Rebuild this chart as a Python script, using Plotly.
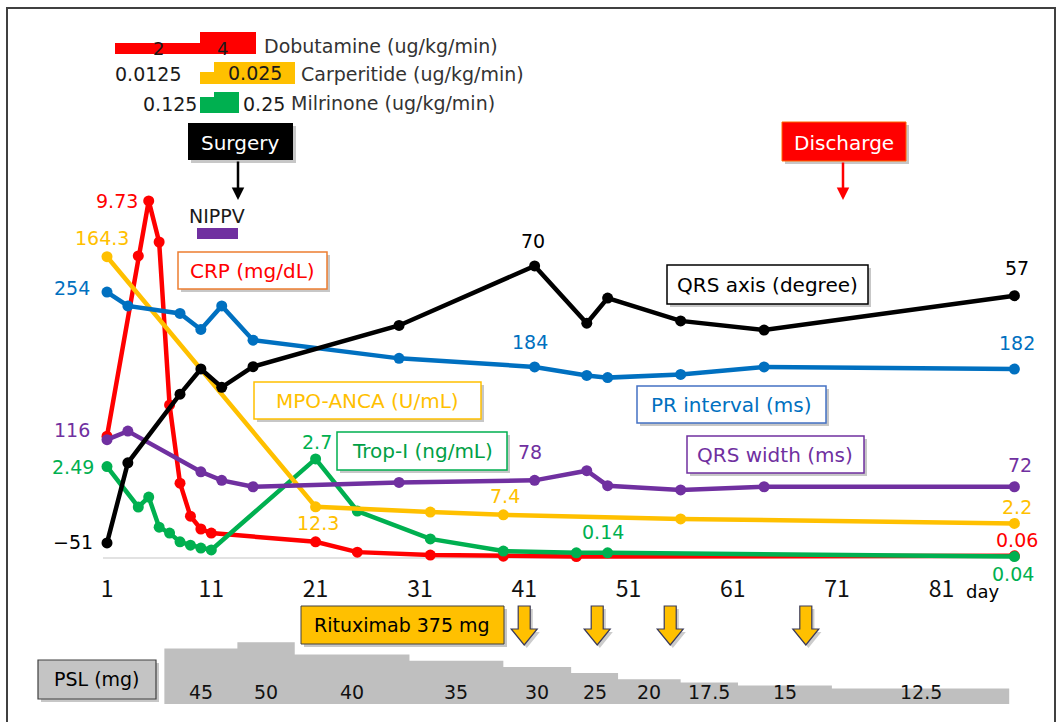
import plotly.graph_objects as go

W, H = 1058, 722
FONT = "DejaVu Sans"
TICK_FONT = "Noto Sans CJK JP"

# ---------------- data ----------------
days_crp = [1, 4, 5, 6, 7, 8, 9, 10, 11, 21, 25, 32, 39, 46, 88]
crp = [3.32, 8.23, 9.73, 8.61, 4.17, 2.04, 1.14, 0.79, 0.68, 0.44, 0.16, 0.08, 0.05, 0.04, 0.06]

days_trop = [1, 4, 5, 6, 7, 8, 9, 10, 11, 21, 25, 32, 39, 46, 49, 88]
trop = [2.49, 1.39, 1.66, 0.84, 0.68, 0.44, 0.35, 0.27, 0.22, 2.7, 1.28, 0.52, 0.19, 0.14, 0.14, 0.04]

days_mpo = [1, 21, 32, 39, 56, 88]
mpo = [164.3, 12.3, 9.1, 7.4, 4.9, 2.2]

days_ecg = [1, 3, 8, 10, 12, 15, 29, 42, 47, 49, 56, 64, 88]
pr_interval = [254, 241, 234, 219, 241, 209, 192, 184, 176, 174, 177, 184, 182]
qrs_axis = [-51, -16, 14, 25, 17, 26, 44, 70, 45, 56, 46, 42, 57]

days_qrsw = [1, 3, 10, 12, 15, 29, 42, 47, 49, 56, 64, 88]
qrs_width = [116, 124, 86, 78, 72, 76, 78, 87, 73, 69, 72, 72]

psl_start_day = [6.5, 13.5, 19, 30, 39, 45.5, 50, 56, 61.5, 70.5]
psl_end_day = 87.5
psl_dose = [45, 50, 40, 35, 30, 25, 20, 17.5, 15, 12.5]

rituximab_days = [41, 48, 55, 68]

x_ticks = [1, 11, 21, 31, 41, 51, 61, 71, 81]

# ---------------- scales ----------------
PX_PER_DAY = 10.43
DAY1_PX = 107
x_range = [1 - DAY1_PX / PX_PER_DAY, 1 + (W - DAY1_PX) / PX_PER_DAY]


def yrange(zero_px, ppu):
    return [(zero_px - H) / ppu, zero_px / ppu]


def fx(p):
    return p / W


def fy(p):
    return 1 - p / H


RED, ORANGE, BLUE, PURPLE, GREEN, BLACK = "#FF0000", "#FFC000", "#0070C0", "#7030A0", "#00B050", "#000000"

fig = go.Figure()


def series(x, y, color, yaxis):
    fig.add_trace(go.Scatter(
        x=x, y=y, mode="lines+markers", yaxis=yaxis,
        line=dict(color=color, width=4.5), marker=dict(color=color, size=11),
        showlegend=False, hoverinfo="skip"))


# PSL area
fig.add_trace(go.Scatter(
    x=psl_start_day + [psl_end_day], y=psl_dose + [psl_dose[-1]], yaxis="y5",
    mode="lines", line=dict(width=0, shape="hv", color="#BFBFBF"),
    fill="tozeroy", fillcolor="#BFBFBF", showlegend=False, hoverinfo="skip"))

series(days_ecg, pr_interval, BLUE, "y3")
series(days_qrsw, qrs_width, PURPLE, "y3")
series(days_mpo, mpo, ORANGE, "y2")
series(days_ecg, qrs_axis, BLACK, "y4")
series(days_crp, crp, RED, "y")
series(days_trop, trop, GREEN, "y")

shapes = []
annotations = []


def rect(x0, y0, x1, y1, fill, line="rgba(0,0,0,0)", lw=1, shadow=True):
    if shadow:
        shapes.append(dict(type="rect", xref="paper", yref="paper",
                           x0=fx(x0 + 3), x1=fx(x1 + 3), y0=fy(y0 + 3), y1=fy(y1 + 3),
                           fillcolor="rgba(0,0,0,0.22)", line=dict(width=0)))
    shapes.append(dict(type="rect", xref="paper", yref="paper",
                       x0=fx(x0), x1=fx(x1), y0=fy(y0), y1=fy(y1),
                       fillcolor=fill, line=dict(color=line, width=lw)))


def text(x, y, s, color="#1a1a1a", size=20, anchor="center", family=FONT):
    annotations.append(dict(xref="paper", yref="paper", x=fx(x), y=fy(y), text=s,
                            showarrow=False, xanchor=anchor, yanchor="middle",
                            font=dict(family=family, size=size, color=color)))


# frame
shapes.append(dict(type="path", xref="paper", yref="paper",
                   path=f"M {fx(7)},{fy(730)} L {fx(7)},{fy(8)} L {fx(1055)},{fy(8)} L {fx(1055)},{fy(730)}",
                   line=dict(color="#404040", width=2)))

# axis line
shapes.append(dict(type="line", xref="paper", yref="paper", x0=fx(103), x1=fx(1020),
                   y0=fy(558), y1=fy(558), line=dict(color="#D9D9D9", width=1.5), layer="below"))

# drug bars
rect(115, 43, 200, 54, RED, shadow=False)
rect(200, 32, 256, 54, RED, shadow=False)
rect(200, 72, 214, 84, ORANGE, shadow=False)
rect(214, 62, 295, 84, ORANGE, shadow=False)
rect(200, 97, 214, 113, GREEN, shadow=False)
rect(214, 92, 239, 113, GREEN, shadow=False)
text(158, 48, "2", size=18)
text(222, 48, "4", size=18)
text(262, 46, "Dobutamine (ug/kg/min)", size=19, anchor="left", color="#333333")
text(148, 74, "0.0125", size=19)
text(255, 73, "0.025", size=19)
text(299, 74, "Carperitide (ug/kg/min)", size=19, anchor="left", color="#333333")
text(199, 104, "0.125", size=19, anchor="right")
text(241, 104, "0.25", size=19, anchor="left")
text(289, 103, "Milrinone (ug/kg/min)", size=19, anchor="left", color="#333333")

# Surgery / Discharge
rect(188, 123, 293, 160, "#000000")
text(240, 143, "Surgery", color="#FFFFFF", size=20)
annotations.append(dict(xref="paper", yref="paper", x=fx(238), y=fy(200), ax=0, ay=-40,
                        text="", showarrow=True, arrowhead=2, arrowsize=1, arrowwidth=2.5,
                        arrowcolor="#000000"))
rect(782, 122, 906, 161, RED, line="#FF6600")
text(844, 143, "Discharge", color="#FFFFFF", size=20)
annotations.append(dict(xref="paper", yref="paper", x=fx(843), y=fy(200), ax=0, ay=-39,
                        text="", showarrow=True, arrowhead=2, arrowsize=1, arrowwidth=2.5,
                        arrowcolor=RED))

# NIPPV
text(217, 216, "NIPPV", size=19)
rect(197, 228, 238, 239, PURPLE, shadow=False)

# series label boxes
rect(178, 252, 327, 289, "#FFFFFF", line="#ED7D31", lw=1.5)
text(252, 271, "CRP (mg/dL)", color=RED)
rect(254, 382, 481, 419, "#FFFFFF", line=ORANGE, lw=1.5)
text(367, 401, "MPO-ANCA (U/mL)", color=ORANGE)
rect(337, 432, 507, 470, "#FFFFFF", line=GREEN, lw=1.5)
text(422, 451, "Trop-I (ng/mL)", color="#00A045")
rect(667, 265, 868, 304, "#FFFFFF", line=BLACK, lw=1.5)
text(767, 285, "QRS axis (degree)", color=BLACK)
rect(637, 386, 826, 423, "#FFFFFF", line="#4472C4", lw=1.5)
text(731, 405, "PR interval (ms)", color=BLUE)
rect(687, 436, 864, 473, "#FFFFFF", line=PURPLE, lw=1.5)
text(775, 455, "QRS width (ms)", color=PURPLE)


def fmt(v):
    return str(v).replace("-", "−")


# value labels
VS = 19
text(117, 201, fmt(max(crp)), RED, VS)
text(102, 238, fmt(mpo[0]), ORANGE, VS)
text(72, 288, fmt(pr_interval[0]), BLUE, VS)
text(72, 430, fmt(qrs_width[0]), PURPLE, VS)
text(73, 467, fmt(trop[0]), GREEN, VS)
text(73, 542, fmt(qrs_axis[0]), BLACK, VS)
text(318, 523, fmt(mpo[1]), ORANGE, VS)
text(317, 442, fmt(max(trop)), GREEN, VS)
text(533, 241, fmt(max(qrs_axis)), BLACK, VS)
text(530, 342, fmt(pr_interval[7]), BLUE, VS)
text(530, 452, fmt(qrs_width[6]), PURPLE, VS)
text(505, 496, fmt(mpo[3]), ORANGE, VS)
text(603, 532, fmt(trop[13]), GREEN, VS)
text(1017, 268, fmt(qrs_axis[-1]), BLACK, VS)
text(1017, 343, fmt(pr_interval[-1]), BLUE, VS)
text(1020, 465, fmt(qrs_width[-1]), PURPLE, VS)
text(1017, 507, fmt(mpo[-1]), ORANGE, VS)
text(1017, 540, fmt(crp[-1]), RED, VS)
text(1013, 574, fmt(trop[-1]), GREEN, VS)

# day label
text(982, 591, "day", BLACK, size=18)

# Rituximab
rect(301, 606, 504, 644, ORANGE, line="#404040", lw=1)
text(402, 625, "Rituximab 375 mg", BLACK, size=19)
sw, hw = 6 / PX_PER_DAY, 13 / PX_PER_DAY
for d in rituximab_days:
    shapes.append(dict(type="path", xref="x", yref="paper",
                       path=(f"M {d + sw + 0.25},{fy(609)} L {d + sw + 0.25},{fy(632)} L {d + hw + 0.25},{fy(632)} "
                             f"L {d + 0.25},{fy(648)} L {d - hw + 0.25},{fy(632)} L {d - sw + 0.25},{fy(632)} "
                             f"L {d - sw + 0.25},{fy(609)} Z"),
                       fillcolor="rgba(0,0,0,0.2)", line=dict(width=0)))
    shapes.append(dict(type="path", xref="x", yref="paper",
                       path=(f"M {d + sw},{fy(606)} L {d + sw},{fy(629)} L {d + hw},{fy(629)} "
                             f"L {d},{fy(645)} L {d - hw},{fy(629)} L {d - sw},{fy(629)} "
                             f"L {d - sw},{fy(606)} Z"),
                       fillcolor=ORANGE, line=dict(color="#3A3A5A", width=1.2)))

# PSL
rect(38, 660, 156, 699, "#C4C4C4", line="#404040", lw=1.2)
text(97, 679, "PSL (mg)", BLACK, size=19)
ends = psl_start_day[1:] + [psl_end_day]
for s, e, v in zip(psl_start_day, ends, psl_dose):
    annotations.append(dict(xref="x", yref="paper", x=(s + e) / 2, y=fy(692), text=fmt(v),
                            showarrow=False, yanchor="middle",
                            font=dict(family=FONT, size=19, color="#111111")))

hidden = dict(visible=False, domain=[0, 1], fixedrange=True)
fig.update_layout(
    width=W, height=H, margin=dict(l=0, r=0, t=0, b=0),
    paper_bgcolor="white", plot_bgcolor="white",
    font=dict(family=FONT),
    xaxis=dict(range=x_range, domain=[0, 1], anchor="free", position=fy(558),
               showgrid=False, zeroline=False, showline=False, fixedrange=True,
               tickvals=x_ticks, ticktext=[str(t) for t in x_ticks],
               ticks="outside", ticklen=10, tickcolor="rgba(0,0,0,0)",
               tickfont=dict(family=TICK_FONT, size=23, color="#111111")),
    yaxis=dict(range=yrange(558, 36.7), **hidden),
    yaxis2=dict(range=yrange(527, 1.645), overlaying="y", **hidden),
    yaxis3=dict(range=yrange(563.8, 1.07), overlaying="y", **hidden),
    yaxis4=dict(range=yrange(426.2, 2.289), overlaying="y", **hidden),
    yaxis5=dict(range=yrange(704, 1.235), overlaying="y", **hidden),
    shapes=shapes, annotations=annotations,
)

fig.write_html("out.html", config={"displayModeBar": False},
               post_script="document.body.style.margin='0';document.body.style.overflow='hidden';")
